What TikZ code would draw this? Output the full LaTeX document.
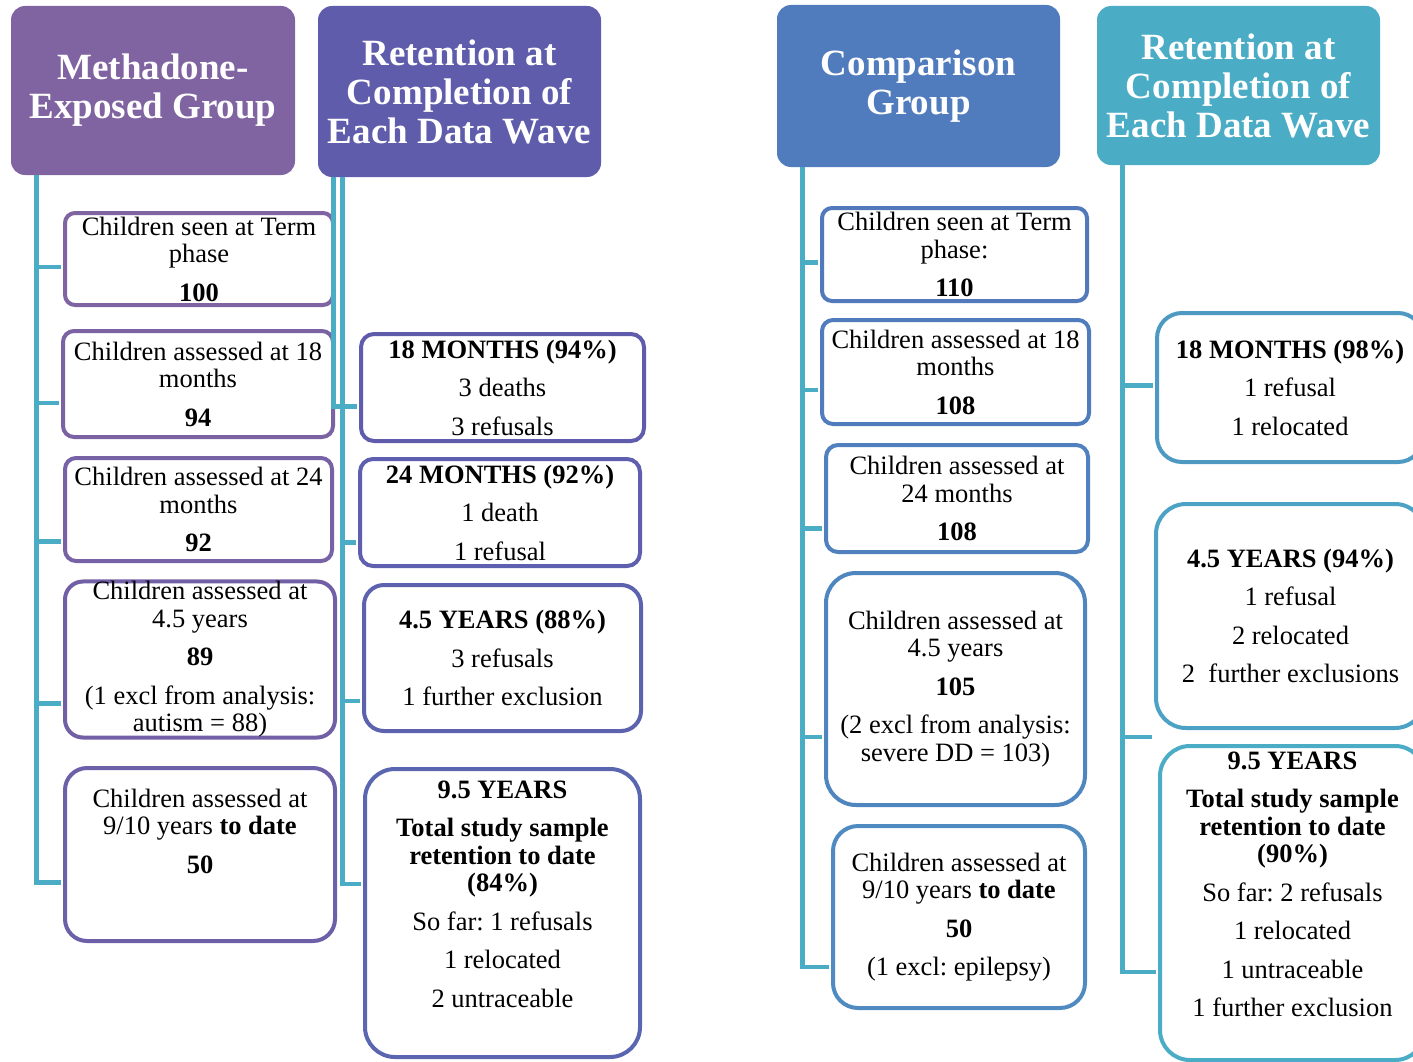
\documentclass[tikz,border=0pt]{standalone}
\usepackage{fontspec}
\setmainfont{Liberation Serif}
\frenchspacing

\definecolor{hdpurple}{RGB}{128,100,162}
\definecolor{hdindigo}{RGB}{96,92,172}
\definecolor{hdblue}{RGB}{80,124,189}
\definecolor{hdaqua}{RGB}{75,172,198}
\definecolor{linkcol}{RGB}{75,172,198}

\tikzset{every picture/.style={line width=0.75pt}}
\tikzset{
  header/.style={fill=#1, rounded corners=14pt, text=white, align=center, inner sep=0pt,
    font=\fontsize{37}{39}\selectfont\bfseries},
  wavebox/.style={draw=#1, line width=4pt, fill=white, align=center, inner sep=0pt,
    font=\fontsize{26.5}{27.5}\selectfont},
  link/.style={draw=linkcol, line width=4.5pt, shorten >=2pt},
}

\begin{document}
\begin{tikzpicture}[x=1pt,y=1pt,yscale=-1,xscale=1]
\useasboundingbox (0,0) rectangle (1413,1062);
\clip (0,0) rectangle (1413,1062);

%Shape: Rounded Rect [headers]
\node[header=hdpurple, minimum width=284pt, minimum height=169pt] (h1) at (153,90.5) {Methadone-\\Exposed Group};
\node[header=hdindigo, minimum width=283pt, minimum height=171pt] (h2) at (459.5,91.5) {Retention at\\Completion of\\Each Data Wave};
\node[header=hdblue, minimum width=283pt, minimum height=162pt] (h3) at (918.5,86) {Comparison\\Group};
\node[header=hdaqua, minimum width=283pt, minimum height=159pt] (h4) at (1238.5,85.5) {Retention at\\Completion of\\Each Data Wave};

%Shape: Rounded Rect [methadone-exposed group]
\node[wavebox=hdpurple, rounded corners=10pt, minimum width=268pt, minimum height=92pt] (b1) at (199,259) {Children seen at Term\\phase\\[11pt]\textbf{100}};
\node[wavebox=hdpurple!85!hdindigo, rounded corners=11pt, minimum width=270pt, minimum height=106pt] (b2) at (198,384) {Children assessed at 18\\months\\[11pt]\textbf{94}};
\node[wavebox=hdpurple!70!hdindigo, rounded corners=11pt, minimum width=267pt, minimum height=103pt] (b3) at (198.5,509.5) {Children assessed at 24\\months\\[11pt]\textbf{92}};
\node[wavebox=hdpurple!55!hdindigo, rounded corners=18pt, minimum width=270pt, minimum height=155pt] (b4) at (200,659.5) {Children assessed at\\4.5 years\\[11pt]\textbf{89}\\[11pt](1 excl from analysis:\\autism = 88)};
\node[wavebox=hdpurple!40!hdindigo, rounded corners=22pt, minimum width=270pt, minimum height=173pt] (b5) at (200,854.5) {Children assessed at\\9/10 years \textbf{to date}\\[11pt]\textbf{50}\\[11pt]\strut};

%Shape: Rounded Rect [retention, methadone-exposed]
\node[wavebox=hdindigo, rounded corners=13pt, minimum width=283pt, minimum height=107pt] (r1) at (502.5,387.5) {\textbf{18 MONTHS (94\%)}\\[11pt]3 deaths\\[11pt]3 refusals};
\node[wavebox=hdindigo!90!hdblue, rounded corners=13pt, minimum width=280pt, minimum height=107pt] (r2) at (500,512.5) {\textbf{24 MONTHS (92\%)}\\[11pt]1 death\\[11pt]1 refusal};
\node[wavebox=hdindigo!80!hdblue, rounded corners=20pt, minimum width=277pt, minimum height=146pt] (r3) at (502.5,658) {\textbf{4.5 YEARS (88\%)}\\[11pt]3 refusals\\[11pt]1 further exclusion};
\node[wavebox=hdindigo!70!hdblue, rounded corners=30pt, minimum width=275pt, minimum height=288pt] (r4) at (502.5,913) {\textbf{9.5 YEARS}\\[11pt]\textbf{Total study sample}\\\textbf{retention to date}\\\textbf{(84\%)}\\[11pt]So far: 1 refusals\\[11pt]1 relocated\\[11pt]2 untraceable\\[2pt]\strut};

%Shape: Rounded Rect [comparison group]
\node[wavebox=hdblue!90!hdindigo, rounded corners=10pt, minimum width=265pt, minimum height=93pt] (c1) at (954.5,254.5) {Children seen at Term\\phase:\\[11pt]\textbf{110}};
\node[wavebox=hdblue, rounded corners=11pt, minimum width=267pt, minimum height=104pt] (c2) at (955.5,372) {Children assessed at 18\\months\\[11pt]\textbf{108}};
\node[wavebox=hdblue!90!hdaqua, rounded corners=12pt, minimum width=262pt, minimum height=107pt] (c3) at (957,498.5) {Children assessed at\\24 months\\[11pt]\textbf{108}};
\node[wavebox=hdblue!80!hdaqua, rounded corners=30pt, minimum width=259pt, minimum height=232pt] (c4) at (955.5,689) {Children assessed at\\4.5 years\\[11pt]\textbf{105}\\[11pt](2 excl from analysis:\\severe DD = 103)};
\node[wavebox=hdblue!70!hdaqua, rounded corners=25pt, minimum width=252pt, minimum height=182pt] (c5) at (959,917) {Children assessed at\\9/10 years \textbf{to date}\\[11pt]\textbf{50}\\[11pt](1 excl: epilepsy)};

%Shape: Rounded Rect [retention, comparison]
\node[wavebox=hdaqua!60!hdblue, rounded corners=25pt, minimum width=266pt, minimum height=149pt] (d1) at (1290,387.5) {\textbf{18 MONTHS (98\%)}\\[11pt]1 refusal\\[11pt]1 relocated};
\node[wavebox=hdaqua!80!hdblue, rounded corners=30pt, minimum width=269pt, minimum height=224pt] (d2) at (1290.5,616) {\textbf{4.5 YEARS (94\%)}\\[11pt]1 refusal\\[11pt]2 relocated\\[11pt]2\ \ further exclusions};
\node[wavebox=hdaqua, rounded corners=30pt, minimum width=265pt, minimum height=314pt] (d3) at (1292.5,903) {\textbf{9.5 YEARS}\\[11pt]\textbf{Total study sample}\\\textbf{retention to date}\\\textbf{(90\%)}\\[11pt]So far: 2 refusals\\[11pt]1 relocated\\[11pt]1 untraceable\\[11pt]1 further exclusion\\[2pt]\strut};

%Straight Lines [methadone-exposed group]
\draw[link] ([xshift=26pt]h1.south west) |- ([yshift=8pt]b1.west);
\draw[link] ([xshift=26pt]h1.south west) |- ([yshift=19pt]b2.west);
\draw[link] ([xshift=26pt]h1.south west) |- ([yshift=32pt]b3.west);
\draw[link] ([xshift=26pt]h1.south west) |- ([yshift=44pt]b4.west);
\draw[link] ([xshift=26pt]h1.south west) |- ([yshift=28pt]b5.west);

%Straight Lines [retention, methadone-exposed]
\draw[link] ([xshift=16pt]h2.south west) |- ([yshift=19pt]r1.west);
\draw[link] ([xshift=25pt]h2.south west) |- ([yshift=30pt]r2.west);
\draw[link] ([xshift=25pt]h2.south west) |- ([yshift=43pt]r3.west);
\draw[link] ([xshift=25pt]h2.south west) |- ([yshift=-29pt]r4.west);

%Straight Lines [comparison group]
\draw[link] ([xshift=26pt]h3.south west) |- ([yshift=8pt]c1.west);
\draw[link] ([xshift=26pt]h3.south west) |- ([yshift=18pt]c2.west);
\draw[link] ([xshift=26pt]h3.south west) |- ([yshift=30pt]c3.west);
\draw[link] ([xshift=26pt]h3.south west) |- ([yshift=48pt]c4.west);
\draw[link] ([xshift=26pt]h3.south west) |- ([yshift=50pt]c5.west);

%Straight Lines [retention, comparison]
\draw[link] ([xshift=26pt]h4.south west) |- ([yshift=-2pt]d1.west);
\draw[link] ([xshift=26pt]h4.south west) |- ([yshift=121pt]d2.west);
\draw[link] ([xshift=26pt]h4.south west) |- ([yshift=69pt]d3.west);

\end{tikzpicture}
\end{document}
